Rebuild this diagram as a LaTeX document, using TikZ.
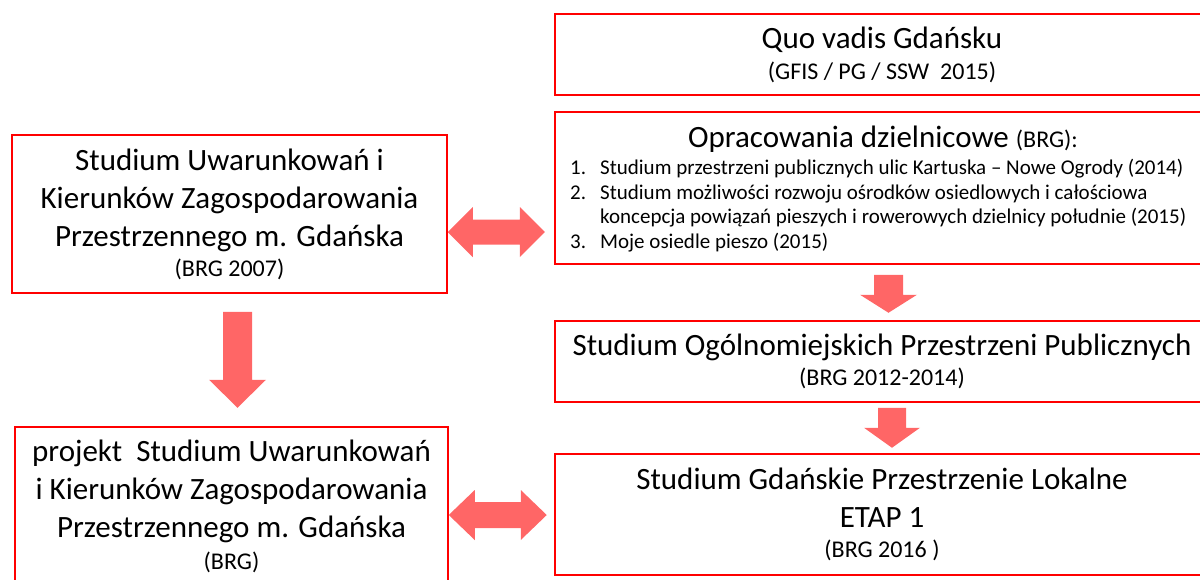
\documentclass[tikz,border=0pt]{standalone}
\usepackage{fontspec}
\setmainfont{Carlito}
\definecolor{boxred}{HTML}{FF0000}
\definecolor{arrowred}{HTML}{FF6666}
\newcommand{\bigfont}{\fontsize{31}{38}\selectfont}
\newcommand{\subfont}{\fontsize{24}{29}\selectfont}
\newcommand{\listfont}{\fontsize{21}{24.5}\selectfont}
\tikzset{
  box/.style={draw=boxred, line width=1.5pt, rectangle, align=center,
    inner sep=0pt, font=\bigfont},
  fat/.style={fill=arrowred},
}
\begin{document}
\begin{tikzpicture}[x=1pt,y=-1pt]
  \clip (0,0) rectangle (1200,579);

  % left column
  \node[box, minimum width=435pt, minimum height=158pt] (suikz) at (229.5,214)
    {Studium Uwarunkowań i\\Kierunków Zagospodarowania\\Przestrzennego m. Gdańska\\[-8pt]{\subfont (BRG 2007)}};
  \node[box, minimum width=433pt, minimum height=159pt] (projekt) at (231.5,506.5)
    {projekt\ \ Studium Uwarunkowań\\i Kierunków Zagospodarowania\\Przestrzennego m. Gdańska\\[-6pt]{\subfont (BRG)}};

  % right column
  \node[box, minimum width=654pt, minimum height=81pt] (quo) at (882,54.5)
    {Quo vadis Gdańsku\\[-7pt]{\subfont (GFIS / PG / SSW\ \ 2015)}};
  \node[box, minimum width=654pt, minimum height=152pt] (opr) at (882,188) {};
  \node[anchor=base, font=\bigfont, inner sep=0pt] (oprhead) at (883,147)
    {Opracowania dzielnicowe {\subfont (BRG):}};
  \node[anchor=north west, font=\listfont, align=left, inner sep=0pt] (oprlist) at (570,159)
    {\makebox[30pt][l]{1.}Studium przestrzeni publicznych ulic Kartuska – Nowe Ogrody (2014)\\
     \makebox[30pt][l]{2.}Studium możliwości rozwoju ośrodków osiedlowych i całościowa\\
     \hspace*{30pt}koncepcja powiązań pieszych i rowerowych dzielnicy południe (2015)\\
     \makebox[30pt][l]{3.}Moje osiedle pieszo (2015)};
  \node[box, minimum width=654pt, minimum height=81pt] (sopp) at (882,361.5)
    {Studium Ogólnomiejskich Przestrzeni Publicznych\\[-8pt]{\subfont (BRG 2012-2014)}};
  \node[box, minimum width=654pt, minimum height=121pt] (sgpl) at (882,514.5)
    {Studium Gdańskie Przestrzenie Lokalne\\ETAP 1\\[-8pt]{\subfont (BRG 2016 )}};

  % block arrows
  \coordinate (la) at ([xshift=8pt]suikz.south);
  \coordinate (ra1) at ([xshift=6.5pt]opr.south);
  \coordinate (ra2) at ([xshift=10pt]sopp.south);
  \coordinate (da1) at ([yshift=-18pt]suikz.east);
  \coordinate (da2) at ([yshift=-8.5pt]projekt.east);

  \fill[fat, shift={(la)}] (-14.5,18) -- (14.5,18) -- (14.5,86) -- (28.5,86)
    -- (0,114) -- (-28.5,86) -- (-14.5,86) -- cycle;
  \fill[fat, shift={(ra1)}] (-14.5,10) -- (14.5,10) -- (14.5,30) -- (28.5,30)
    -- (0,48) -- (-28.5,30) -- (-14.5,30) -- cycle;
  \fill[fat, shift={(ra2)}] (-14,5) -- (14,5) -- (14,25) -- (28,25)
    -- (0,45) -- (-28,25) -- (-14,25) -- cycle;
  \fill[fat, shift={(da1)}] (0,0) -- (25,-25) -- (25,-12.5) -- (72,-12.5) -- (72,-25)
    -- (97,0) -- (72,25) -- (72,12.5) -- (25,12.5) -- (25,25) -- cycle;
  \fill[fat, shift={(da2)}] (0,0) -- (26,-25) -- (26,-13) -- (72,-13) -- (72,-25)
    -- (98,0) -- (72,25) -- (72,13) -- (26,13) -- (26,25) -- cycle;
\end{tikzpicture}
\end{document}
